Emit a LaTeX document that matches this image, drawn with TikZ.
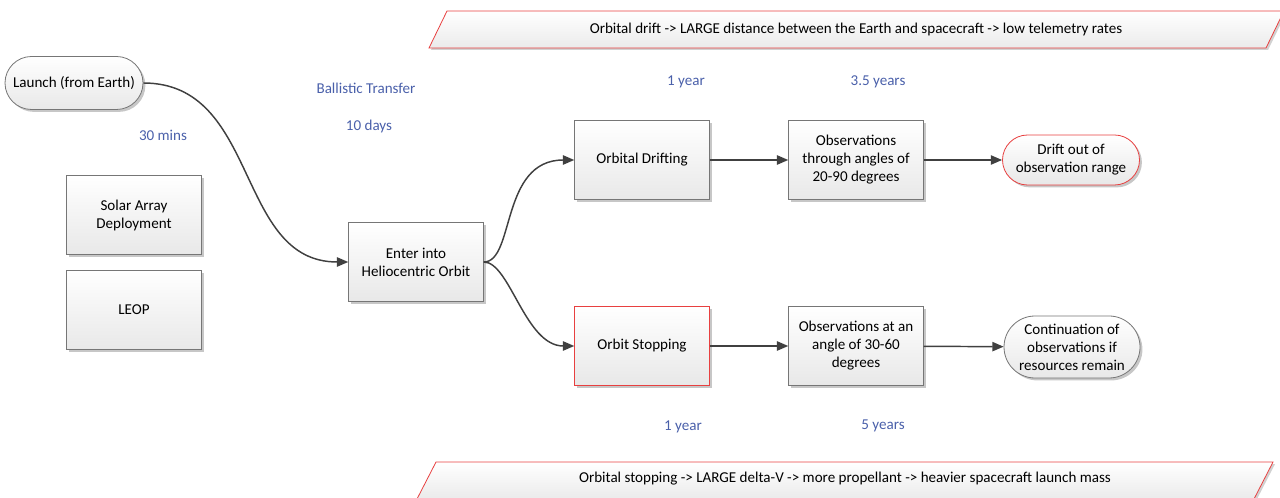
\documentclass[tikz,border=0pt]{standalone}
\usepackage{fontspec}
\setmainfont{Carlito}
\usetikzlibrary{arrows.meta,shapes.misc,shadows}
\definecolor{lblblue}{RGB}{74,96,170}
\definecolor{redline}{RGB}{232,64,64}
\definecolor{edgecol}{RGB}{64,64,64}
\definecolor{boxline}{RGB}{118,118,118}
\tikzset{
  basestyle/.style={font=\fontsize{11.3}{13.5}\selectfont, align=center, top color=white, bottom color=black!9, draw=boxline, line width=0.6pt, drop shadow={shadow xshift=1.8pt,shadow yshift=-1.8pt,fill=black,opacity=0.22}},
  boxnode/.style={basestyle, rectangle, minimum width=101pt, minimum height=59pt, inner sep=0pt},
  pillnode/.style={basestyle, rounded rectangle, inner sep=0pt},
  lbltext/.style={font=\fontsize{11.3}{13.5}\selectfont, text=lblblue},
  banner/.style={top color=white, bottom color=black!8, draw=redline, line width=0.6pt, drop shadow={shadow xshift=1.5pt,shadow yshift=-1.5pt,fill=black,opacity=0.18}},
  conn/.style={draw=edgecol, line width=1.1pt, -{Triangle[width=7pt,length=8.5pt]}},
}
\begin{document}
\begin{tikzpicture}[x=0.75pt,y=-0.75pt]
\useasboundingbox (0,0) rectangle (1280,498);
% banners
\path[banner] (429,48) -- (447,11) -- (1284,11) -- (1266,48) -- cycle;
\node[font=\fontsize{11.3}{13.5}\selectfont] (topbanner) at (856,29) {Orbital drift -> LARGE distance between the Earth and spacecraft -> low telemetry rates};
\path[banner] (417,499) -- (436,462) -- (1273,462) -- (1254,499) -- cycle;
\node[font=\fontsize{11.3}{13.5}\selectfont] (botbanner) at (845,479) {Orbital stopping -> LARGE delta-V -> more propellant -> heavier spacecraft launch mass};
% nodes
\node[pillnode, minimum width=103.5pt, minimum height=39.75pt] (launch) at (74,83) {Launch (from Earth)};
\node[boxnode] (solar) at (134,215) {Solar Array\\Deployment};
\node[boxnode] (leop) at (134,310) {LEOP};
\node[boxnode] (enter) at (416,262) {Enter into\\Heliocentric Orbit};
\node[boxnode] (drift) at (642,160) {Orbital Drifting};
\node[boxnode] (obsone) at (856,160) {Observations\\through angles of\\20-90 degrees};
\node[pillnode, draw=redline, minimum width=102.75pt, minimum height=37.5pt] (driftout) at (1071,160) {Drift out of\\observation range};
\node[boxnode, draw=redline] (stop) at (642,346) {Orbit Stopping};
\node[boxnode] (obstwo) at (856,346) {Observations at an\\angle of 30-60\\degrees};
\node[pillnode, minimum width=102pt, minimum height=46.5pt] (cont) at (1072,347) {Continuation of\\observations if\\resources remain};
% labels
\node[lbltext] (lthirty) at (163,135) {30 mins};
\node[lbltext] (lballistic) at (366,88) {Ballistic Transfer};
\node[lbltext] (ltendays) at (369,126) {10 days};
\node[lbltext] (lyearone) at (686,82) {1 year};
\node[lbltext] (lthreefive) at (878,82) {3.5 years};
\node[lbltext] (lyeartwo) at (683,427) {1 year};
\node[lbltext] (lfive) at (883,426) {5 years};
% connectors
\draw[conn] (launch.east) .. controls (260,83) and (235,262) .. (enter.west);
\draw[conn] (enter.east) .. controls (515,262) and (500,160) .. (drift.west);
\draw[conn] (enter.east) .. controls (510,262) and (525,346) .. (stop.west);
\draw[conn] (drift) -- (obsone);
\draw[conn] (obsone) -- (driftout);
\draw[conn] (stop) -- (obstwo);
\draw[conn] (obstwo) -- (cont);
\end{tikzpicture}
\end{document}
